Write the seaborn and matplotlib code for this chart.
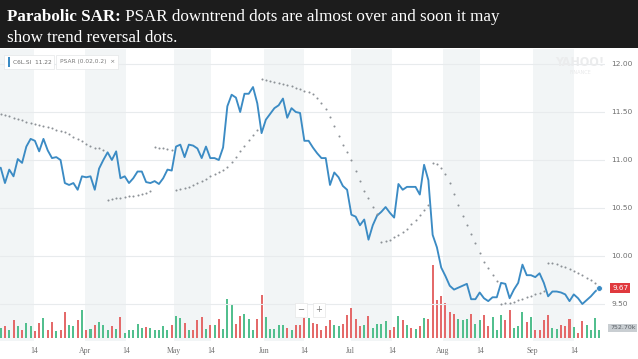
import numpy as np
import pandas as pd
import matplotlib
matplotlib.use("Agg")
import matplotlib.pyplot as plt
import matplotlib.transforms as mtransforms
from matplotlib.patches import Rectangle
import seaborn as sns

# ---------------- data ----------------
close = [10.92, 10.76, 10.90, 10.83, 11.01, 10.97, 11.14, 11.22, 11.20, 11.09,
         11.22, 11.10, 11.02, 11.03, 11.00, 10.76, 10.74, 10.76, 10.69, 10.83,
         10.82, 10.83, 10.69, 10.91, 11.00, 11.08, 11.00, 11.09, 10.81, 10.83,
         10.76, 10.81, 10.88, 10.88, 10.77, 10.76, 10.78, 10.75, 10.81, 10.90,
         10.89, 11.14, 11.16, 11.03, 11.16, 11.15, 11.12, 11.02, 11.14, 11.02,
         11.02, 11.00, 11.13, 11.56, 11.68, 11.65, 11.50, 11.69, 11.69, 11.76,
         11.59, 11.28, 11.42, 11.48, 11.54, 11.57, 11.64, 11.44, 11.54, 11.50,
         11.49, 11.20, 11.20, 11.13, 11.07, 11.02, 11.02, 10.74, 10.87, 10.82,
         10.73, 10.69, 10.43, 10.41, 10.32, 10.38, 10.17, 10.32, 10.42, 10.46,
         10.51, 10.45, 10.40, 10.75, 10.69, 10.72, 10.72, 10.72, 10.64, 10.95,
         10.79, 10.22, 10.09, 9.88, 9.79, 9.69, 9.65, 9.67, 9.69, 9.71,
         9.55, 9.55, 9.62, 9.56, 9.53, 9.57, 9.57, 9.72, 9.71, 9.56,
         9.65, 9.72, 9.91, 9.80, 9.80, 9.78, 9.82, 9.72, 9.58, 9.63,
         9.63, 9.62, 9.60, 9.53, 9.60, 9.56, 9.50, 9.54, 9.58, 9.63,
         9.67]

volume_k = [900, 1110, 750, 1590, 1110, 750, 1350, 1110, 600, 1350,
            1800, 750, 1410, 600, 690, 2310, 1200, 1050, 1590, 2490,
            750, 810, 1200, 1410, 1200, 750, 1050, 810, 1890, 450,
            690, 750, 1290, 900, 960, 900, 750, 690, 1050, 690,
            1200, 2010, 1800, 1350, 690, 750, 1650, 1890, 810, 1200,
            1200, 1710, 810, 3510, 3090, 1290, 2010, 2190, 1710, 690,
            1710, 3840, 1890, 810, 810, 1200, 1200, 900, 750, 1200,
            1200, 1800, 1800, 1350, 1290, 750, 1050, 1590, 1200, 1050,
            1290, 2100, 2700, 1710, 1110, 1200, 1950, 900, 1260, 1260,
            1500, 750, 990, 2010, 1650, 1200, 900, 840, 1110, 1800,
            1740, 6600, 3450, 3750, 3150, 2310, 2190, 1710, 1590, 1710,
            2190, 1290, 1650, 2100, 1050, 1890, 690, 2100, 1590, 2490,
            900, 1110, 2310, 1410, 1890, 750, 750, 1590, 2100, 900,
            810, 1200, 1110, 1710, 990, 450, 1500, 1200, 690, 1800,
            752.70]

volume_dir = list("G" + "RGRGRGGRRG" + "RRGRRGGRGR" + "GRGGGRGRGG" + "GGGRGGGGGR"
                  + "GGRGRRRGRG" + "RGGGRRGGGR" + "RGGGGGRGRR" + "RGRRRRRGGR"
                  + "RRRRGRGGGG" + "RRGRGRGRGR" + "RRRRRRGGGR" + "GGRRGGGRRG"
                  + "GGRGRRRRGG" + "RRRGRRGGGG")

psar = [11.48, 11.47, 11.46, 11.44, 11.43, 11.42, 11.40, 11.39, 11.38, 11.36,
        11.35, 11.34, 11.33, 11.31, 11.30, 11.29, 11.27, 11.24, 11.22, 11.20,
        11.17, 11.15, 11.13, 11.12, 11.10,
        10.58, 10.59, 10.60, 10.60, 10.61, 10.62, 10.63, 10.64, 10.65, 10.66, 10.68,
        11.14, 11.13, 11.12, 11.11, 11.10,
        10.69, 10.70, 10.71, 10.72, 10.74, 10.76, 10.78, 10.80, 10.83, 10.85,
        10.88, 10.90, 10.93, 10.98, 11.03, 11.09, 11.15, 11.21, 11.26, 11.31,
        11.84, 11.83, 11.82, 11.81, 11.80, 11.79, 11.78, 11.77, 11.75, 11.74,
        11.72, 11.71, 11.69, 11.65, 11.59, 11.53, 11.45, 11.35, 11.25, 11.16,
        11.08, 11.00, 10.89, 10.78, 10.68, 10.60, 10.51, 10.44,
        10.15, 10.16, 10.17, 10.20, 10.22, 10.25, 10.28, 10.33, 10.38, 10.43, 10.48, 10.53,
        10.97, 10.96, 10.92, 10.85, 10.76, 10.65, 10.53, 10.42, 10.32, 10.23,
        10.14, 10.03, 9.94, 9.87, 9.80, 9.74,
        9.50, 9.51, 9.51, 9.52, 9.54, 9.55, 9.57, 9.58, 9.60, 9.61, 9.64,
        9.93, 9.93, 9.92, 9.90, 9.89, 9.86, 9.84, 9.82, 9.80, 9.77, 9.75, 9.72, 9.68]

tick_labels = ["14", "Apr", "14", "May", "14", "Jun", "14", "Jul", "14", "Aug", "14", "Sep", "14"]
tick_pos = [7.8, 19.6, 29.4, 40.6, 49.1, 61.5, 71.0, 81.8, 91.6, 103.4, 112.1, 124.4, 134.0]
price_ticks = [9.50, 10.00, 10.50, 11.00, 11.50, 12.00]

title_bold = "Parabolic SAR:"
title_rest1 = " PSAR downtrend dots are almost over and soon it may"
title_line2 = "show trend reversal dots."
legend_symbol = "C6L.SI  11.22"
legend_ind = "PSAR (0.02,0.2)  \u00d7"
last_volume_label = "752.70k"

# ---------------- styling ----------------
sns.set_theme(style="white")
plt.rcParams["font.family"] = ["DejaVu Sans"]

W, H = 638, 359
fig = plt.figure(figsize=(W / 100, H / 100), dpi=100)
fig.patch.set_facecolor("white")

BLUE = "#3b8bc4"
RED = "#e46a6a"
GREEN = "#52bf8e"
BAND = "#f2f5f6"
GRID = "#e8ebed"
TXT = "#707070"

df = pd.DataFrame({"idx": np.arange(len(close)), "close": close,
                   "volume": volume_k, "dir": volume_dir, "psar": psar})

# axes rectangle in pixels: x 0..605, y 49..341 (top-down)
ax_v = fig.add_axes([0 / W, (H - 341) / H, 605 / W, (341 - 49) / H])
ax_p = ax_v.twinx()

xmin, xmax = -0.16, 141.3
band_edges = [(xmin, tick_pos[0])] + [(tick_pos[i], tick_pos[i + 1]) for i in range(1, len(tick_pos) - 1, 2)]
for a, b in band_edges:
    ax_v.axvspan(a, b, color=BAND, lw=0, zorder=0)

# volume bars
sns.barplot(data=df, x="idx", y="volume", hue="dir", palette={"G": GREEN, "R": RED},
            native_scale=True, dodge=False, width=0.47, saturation=1, errorbar=None,
            legend=False, linewidth=0, antialiased=False, ax=ax_v, zorder=2)
ax_v.set_ylim(-270, 26000)

# price line + psar dots
for t in price_ticks:
    ax_p.axhline(t, color=GRID, lw=0.8, zorder=0)
sns.lineplot(data=df, x="idx", y="close", color=BLUE, lw=1.35, ax=ax_p, zorder=3)
sns.scatterplot(data=df, x="idx", y="psar", color="#8d9297", s=2.2, linewidth=0, ax=ax_p, zorder=3)
sns.scatterplot(x=[df["idx"].iloc[-1]], y=[close[-1]], color=BLUE, s=18, linewidth=0.6,
                edgecolor="white", ax=ax_p, zorder=4)
ax_p.set_ylim(12 - (341 - 64) / 96, 12 + (64 - 49) / 96)

for a in (ax_v, ax_p):
    a.set_xlim(xmin, xmax)
    for s in a.spines.values():
        s.set_visible(False)
    a.set_xlabel("")
    a.set_ylabel("")

ax_v.set_yticks([])
ax_v.set_xticks(tick_pos)
ax_v.set_xticklabels(tick_labels, family=["Liberation Serif"], fontsize=5.6, color=TXT)
ax_v.tick_params(axis="x", length=0, pad=4)

ax_p.set_yticks(price_ticks)
ax_p.set_yticklabels([f"{t:.2f}" for t in price_ticks], fontsize=5.4, color=TXT)
ax_p.tick_params(axis="y", length=0, pad=4.5, right=True, labelright=True, left=False, labelleft=False)

# value flags on the right
tr_p = mtransforms.blended_transform_factory(ax_p.transAxes, ax_p.transData)
ax_p.text(1 + 7 / 605, close[-1], f"{close[-1]:.2f}", transform=tr_p, fontsize=5.2, color="white",
          va="center", ha="left",
          bbox=dict(boxstyle="square,pad=0.3", fc="#e0393e", ec="none"))
tr_v = mtransforms.blended_transform_factory(ax_v.transAxes, ax_v.transData)
ax_v.text(1 + 5 / 605, volume_k[-1] + 180, last_volume_label, transform=tr_v, fontsize=4.5, color="#5b6066",
          va="center", ha="left", clip_on=False,
          bbox=dict(boxstyle="square,pad=0.25", fc="#c9ced2", ec="none"), zorder=5)

# title bar
fig.patches.append(Rectangle((0, 1 - 48 / H), 1, 48 / H, transform=fig.transFigure,
                             fc="#1c1c1c", ec="none", zorder=0))
fig.canvas.draw()
r = fig.canvas.get_renderer()
TFS = 12.25
t1 = fig.text(7 / W, 1 - 21 / H, title_bold, family=["Liberation Serif"], fontweight="bold",
              fontsize=TFS, color="white", va="baseline", ha="left")
bb = t1.get_window_extent(r)
fig.text(bb.x1 / W, 1 - 21 / H, title_rest1, family=["Liberation Serif"], fontsize=TFS,
         color="white", va="baseline", ha="left")
fig.text(7 / W, 1 - 42 / H, title_line2, family=["Liberation Serif"], fontsize=TFS,
         color="white", va="baseline", ha="left")

# legend chips (top-left)
fig.patches.append(Rectangle((4 / W, 1 - 69 / H), 50 / W, 14 / H, transform=fig.transFigure,
                             fc="white", ec="#e4e6e8", lw=0.5, zorder=5))
fig.patches.append(Rectangle((8 / W, 1 - 67 / H), 2 / W, 10 / H, transform=fig.transFigure,
                             fc=BLUE, ec="none", zorder=6))
fig.text(13 / W, 1 - 62 / H, legend_symbol, fontsize=4.2, color="#6d6d6d", va="center", ha="left", zorder=7)
fig.patches.append(Rectangle((56 / W, 1 - 69 / H), 62 / W, 14 / H, transform=fig.transFigure,
                             fc="white", ec="#e4e6e8", lw=0.5, zorder=5))
fig.text(60 / W, 1 - 62 / H, legend_ind, fontsize=4.2, color="#7a7a7a", va="center", ha="left", zorder=7)

# watermark
fig.text(580 / W, 1 - 62 / H, "YAHOO!", fontsize=9, color="#ebeced", va="center", ha="center",
         fontweight="bold", fontstretch="condensed")
fig.text(580 / W, 1 - 72 / H, "FINANCE", fontsize=3.6, color="#e8e9ea", va="center", ha="center")

# zoom buttons
for cx, s in ((301, "\u2212"), (319, "+")):
    fig.text(cx / W, 1 - 310 / H, s, fontsize=6, color="#777", va="center", ha="center",
             bbox=dict(boxstyle="square,pad=0.35", fc="white", ec="#e6e6e6", lw=0.5), zorder=8)

fig.savefig("out.png", dpi=100)
